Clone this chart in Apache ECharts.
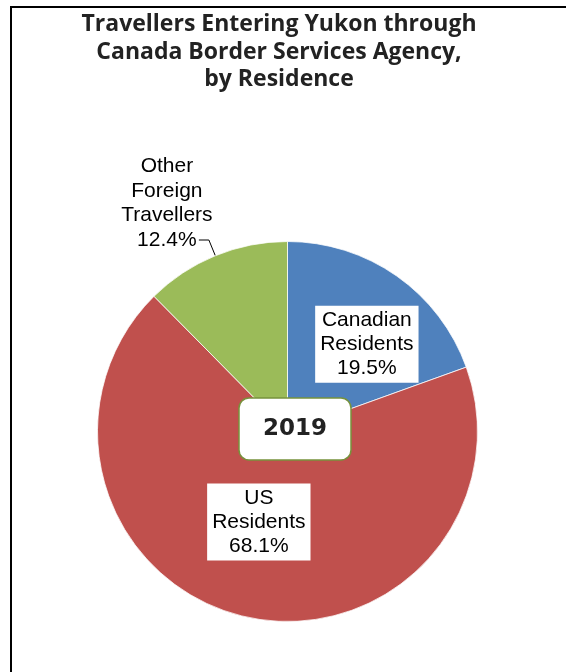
<!DOCTYPE html>
<html>
<head>
<meta charset="utf-8">
<script src="https://cdn.jsdelivr.net/npm/echarts@6/dist/echarts.min.js"></script>
<style>
html,body{margin:0;padding:0;background:#fff;}
#chart{width:566px;height:672px;}
</style>
</head>
<body>
<div id="chart"></div>
<script>
const titleText = "Travellers Entering Yukon through\nCanada Border Services Agency,\nby Residence";
const yearText = "2019";
const categories = ["Canadian Residents", "US Residents", "Other Foreign Travellers"];
const labelNames = ["Canadian\nResidents", "US\nResidents", "Other\nForeign\nTravellers"];
const shares = [19.5, 68.1, 12.4];
const colors = ["#4F81BD", "#C0504D", "#9BBB59"];

const chart = echarts.init(document.getElementById('chart'), null, {renderer: 'canvas'});

const insideLabel = {
  show: true,
  position: 'inside',
  color: '#000',
  fontFamily: 'Liberation Sans',
  fontSize: 21,
  lineHeight: 24,
  backgroundColor: '#fff',
  padding: [3, 5, 2, 5],
  formatter: p => labelNames[p.dataIndex] + '\n' + shares[p.dataIndex].toFixed(1) + '%'
};

const data = categories.map((c, i) => {
  const item = { name: c, value: shares[i], itemStyle: { color: colors[i] } };
  if (i === 2) {
    item.label = {
      show: true,
      position: 'outside',
      backgroundColor: 'transparent',
      padding: 0,
      align: 'center',
      lineHeight: 24.5
    };
    item.labelLine = { show: true, length: 17, length2: 10, smooth: false,
      lineStyle: { color: '#000', width: 1 } };
  }
  return item;
});

const option = {
  animation: false,
  backgroundColor: '#fff',
  graphic: [{
    type: 'rect',
    shape: { x: 11, y: 7, width: 700, height: 800 },
    style: { fill: 'none', stroke: '#000', lineWidth: 2 },
    silent: true,
    z: 100
  }],
  title: [{
    text: titleText,
    left: 274,
    top: 6,
    textAlign: 'center',
    textStyle: {
      fontFamily: 'Open Sans',
      fontWeight: 'bold',
      fontSize: 23,
      lineHeight: 27.5,
      color: '#222'
    }
  }, {
    text: yearText,
    left: 271,
    top: 398,
    textAlign: 'center',
    padding: [16, 24],
    backgroundColor: '#fff',
    borderColor: '#77933C',
    borderWidth: 1.5,
    borderRadius: 10,
    z: 10,
    textStyle: {
      fontFamily: 'DejaVu Sans',
      fontWeight: 'bold',
      fontSize: 23,
      lineHeight: 30,
      color: '#222'
    }
  }],
  series: [{
    type: 'pie',
    center: [287.5, 431.5],
    radius: [0, 190],
    startAngle: 90,
    clockwise: true,
    avoidLabelOverlap: false,
    itemStyle: { borderColor: '#fff', borderWidth: 0.75 },
    label: insideLabel,
    labelLine: { show: false },
    emphasis: { disabled: true },
    labelLayout: function (params) {
      if (params.dataIndex === 0) return { dx: 23, dy: -7 };
      if (params.dataIndex === 1) return { dx: -7, dy: -5 };
      const pts = params.labelLinePoints;
      if (pts && pts.length) {
        const last = pts[pts.length - 1];
        return {
          x: last[0] - 32,
          y: last[1] + 12,
          align: 'center',
          verticalAlign: 'bottom',
          labelLinePoints: pts
        };
      }
      return {};
    },
    data: data
  }]
};
chart.setOption(option);
</script>
</body>
</html>
